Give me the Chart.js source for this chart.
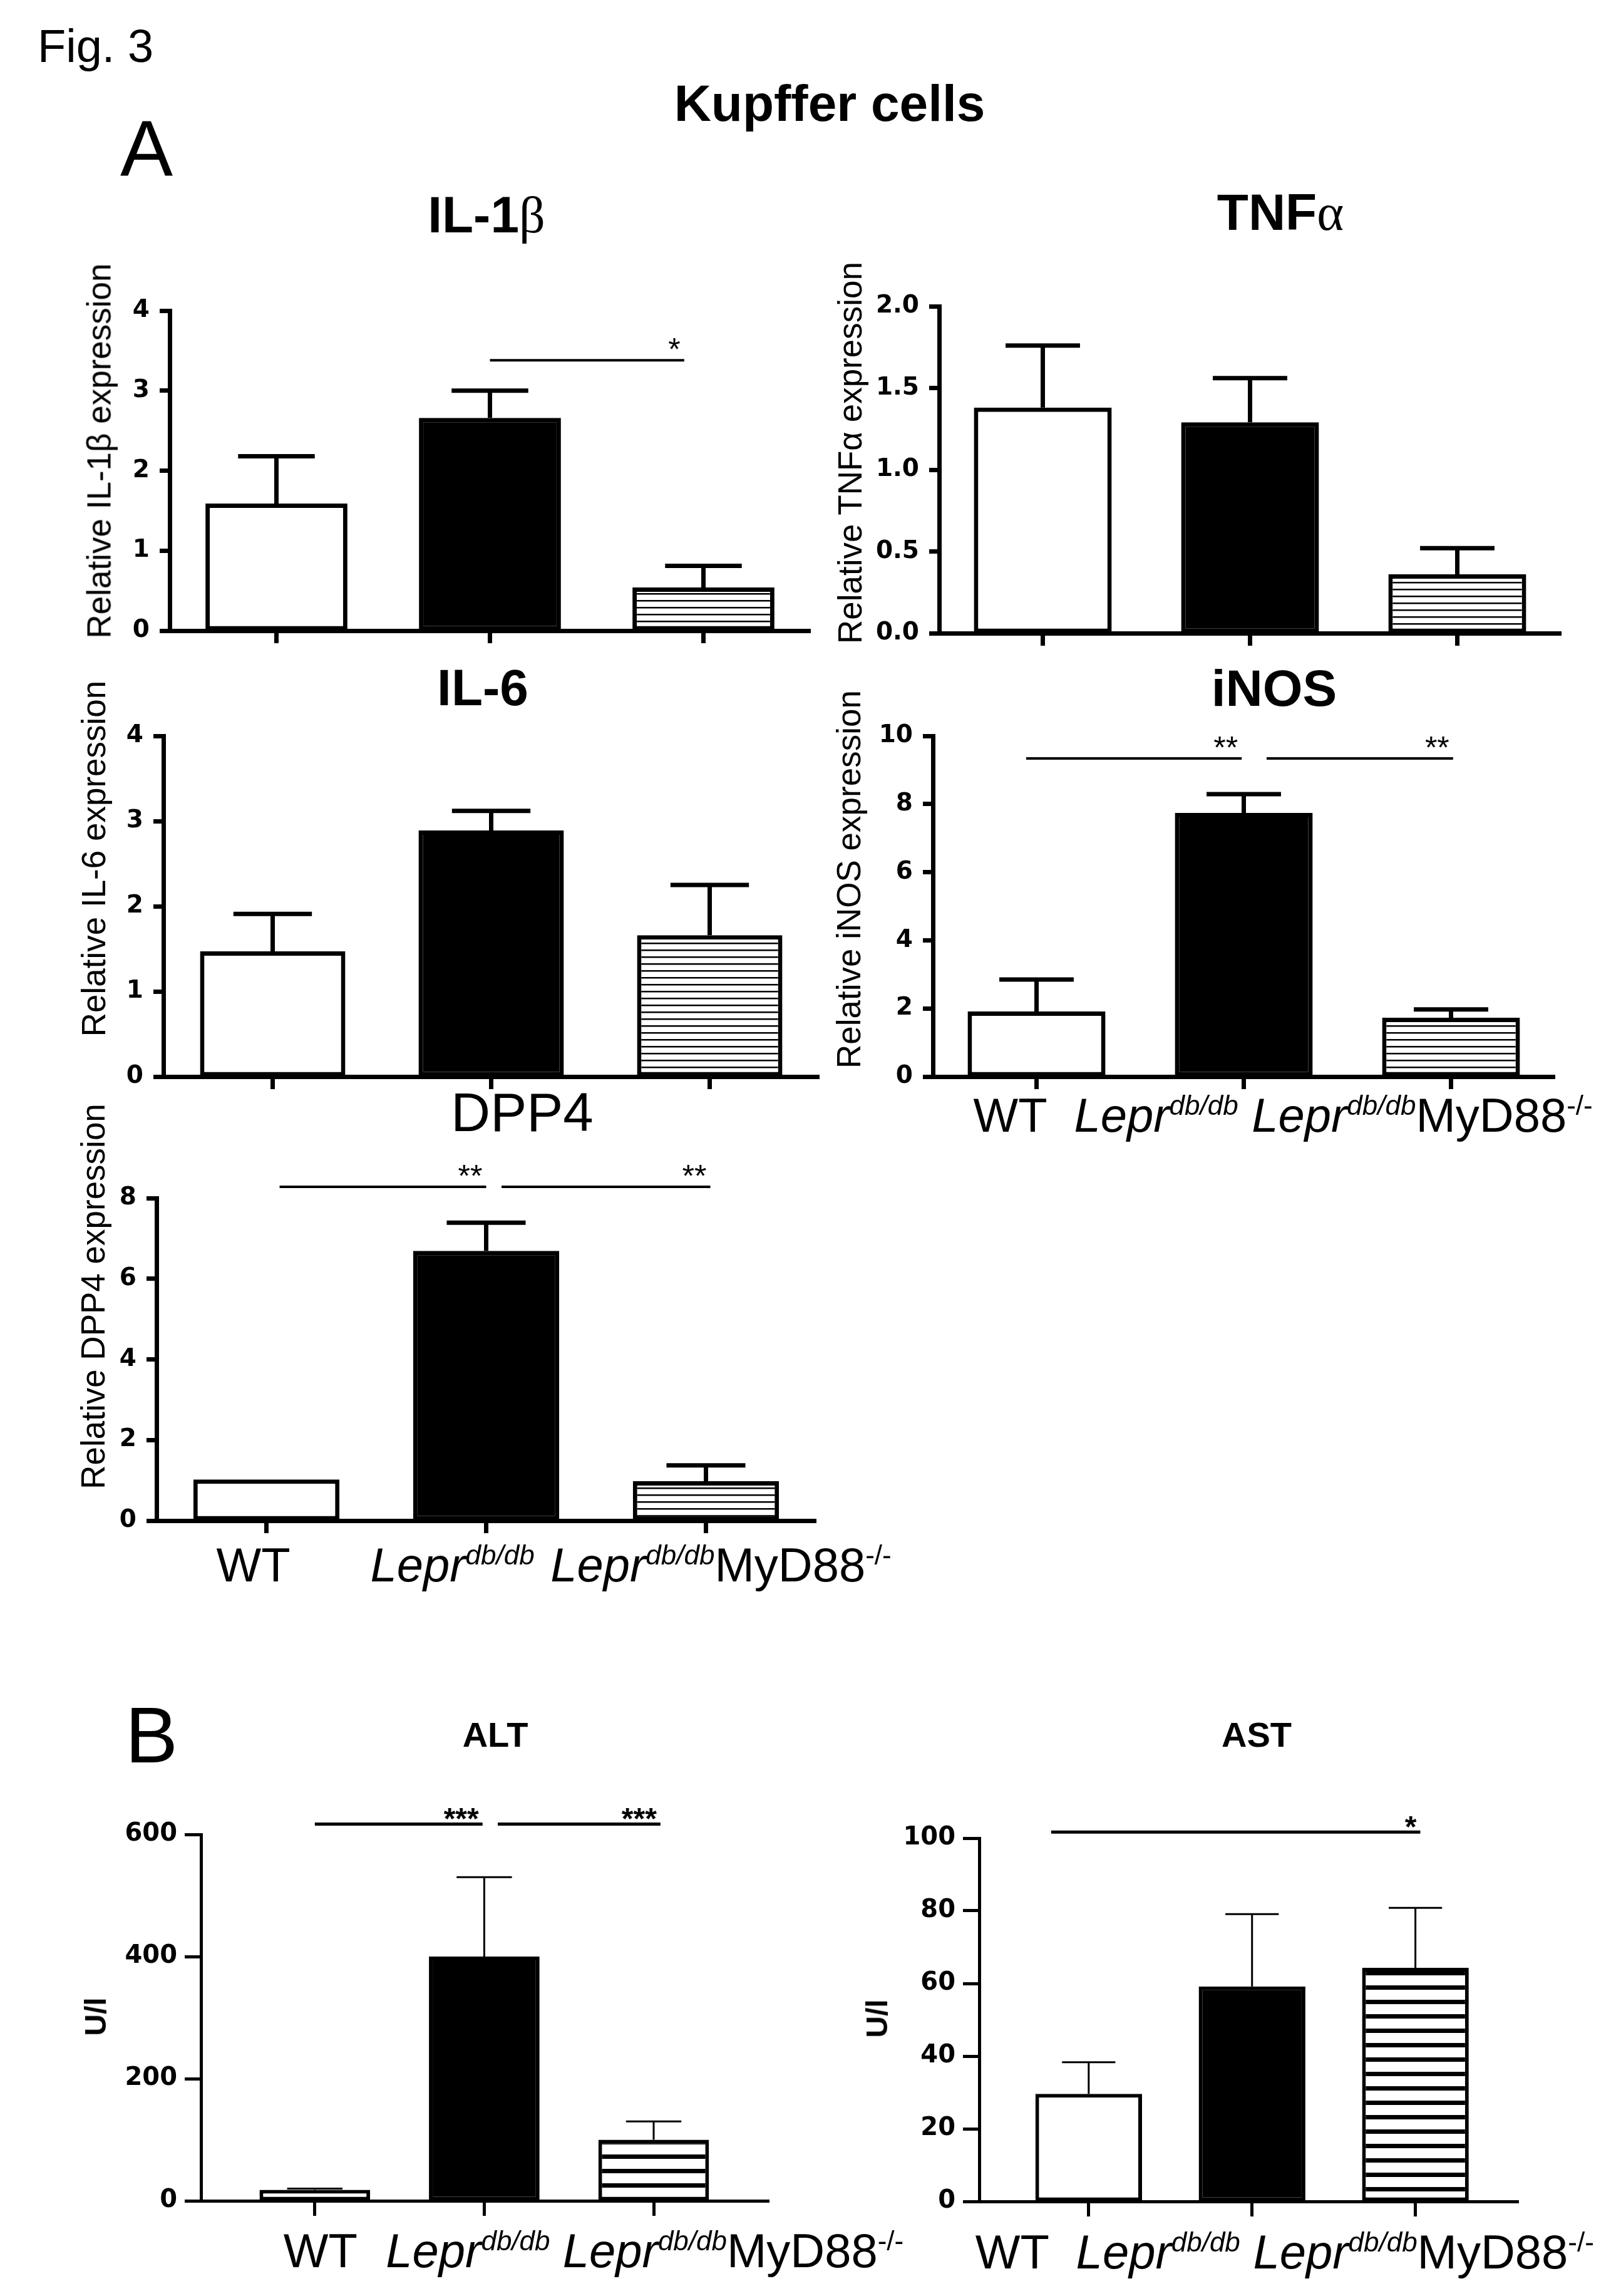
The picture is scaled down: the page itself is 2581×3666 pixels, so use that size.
<!DOCTYPE html>
<html lang="en">
<head>
<meta charset="UTF-8">
<title>Fig. 3 | Kupffer cells</title>
<script src="https://cdn.jsdelivr.net/npm/chart.js"></script>
<style>
  html, body { margin: 0; padding: 0; background: #fff; }
  body { width: 2581px; height: 3666px; position: relative; overflow: hidden;
         font-family: "Liberation Sans", Arial, sans-serif; color: #000; }
  canvas { position: absolute; }
  .txt { position: absolute; white-space: nowrap; line-height: 1; z-index: 2; }
  .ctr { transform: translateX(-50%); }
  .ylab { position: absolute; white-space: nowrap; line-height: 1; font-size: 53px; z-index: 2;
          transform: translate(-50%, -50%) rotate(-90deg); }
  .gr { font-family: "Liberation Serif", serif; font-weight: normal; }
</style>
</head>
<body>
  <div class="txt" style="left:60px; top:37px; font-size:74px;">Fig. 3</div>
  <div class="txt ctr" style="left:1325px; top:124px; font-size:82px; font-weight:bold;">Kupffer cells</div>
  <div class="txt" style="left:192px; top:174px; font-size:126px;">A</div>
  <div class="txt" style="left:200px; top:2708px; font-size:126px;">B</div>

  <!-- titulos dos paineis -->
  <div class="txt ctr" style="left:777px; top:302px; font-size:82px; font-weight:bold;">IL-1<span class="gr">β</span></div>
  <div class="txt ctr" style="left:2045px; top:298px; font-size:82px; font-weight:bold;">TNF<span class="gr">α</span></div>
  <div class="txt ctr" style="left:771px; top:1057px; font-size:82px; font-weight:bold;">IL-6</div>
  <div class="txt ctr" style="left:2035px; top:1058px; font-size:82px; font-weight:bold;">iNOS</div>
  <div class="txt ctr" style="left:834px; top:1732px; font-size:87px;">DPP4</div>
  <div class="txt ctr" style="left:791px; top:2742px; font-size:56px; font-weight:bold;">ALT</div>
  <div class="txt ctr" style="left:2007px; top:2742px; font-size:56px; font-weight:bold;">AST</div>

  <!-- eixo y -->
  <div class="ylab" style="left:158px; top:720px;">Relative IL-1β expression</div>
  <div class="ylab" style="left:1357px; top:723px;">Relative TNFα expression</div>
  <div class="ylab" style="left:149px; top:1371px;">Relative IL-6 expression</div>
  <div class="ylab" style="left:1355px; top:1404px;">Relative iNOS expression</div>
  <div class="ylab" style="left:148px; top:2070px;">Relative DPP4 expression</div>
  <div class="ylab" style="left:153px; top:3220px; font-size:48px; font-weight:bold;">U/l</div>
  <div class="ylab" style="left:1401px; top:3223px; font-size:48px; font-weight:bold;">U/l</div>

  <canvas id="cIl1b"></canvas>
  <canvas id="cTnf"></canvas>
  <canvas id="cIl6"></canvas>
  <canvas id="cInos"></canvas>
  <canvas id="cDpp4"></canvas>
  <canvas id="cAlt"></canvas>
  <canvas id="cAst"></canvas>

<script>
  // grupos
  const groups = ['WT', 'Lepr db/db', 'Lepr db/db MyD88-/-'];
  const groupRuns = [
    [{ t: 'WT' }],
    [{ t: 'Lepr', it: true }, { t: 'db/db', it: true, sup: true }],
    [{ t: 'Lepr', it: true }, { t: 'db/db', it: true, sup: true }, { t: 'MyD88' }, { t: '-/-', sup: true }]
  ];

  // dados (media e erro padrao)
  const il1bMean = [1.59, 2.66, 0.54];
  const il1bSem  = [0.59, 0.34, 0.27];
  const il1bTicks = [0, 1, 2, 3, 4];
  const il1bSig = [[1, 1.91, 3.38, '*']];

  const tnfMean = [1.38, 1.29, 0.36];
  const tnfSem  = [0.38, 0.27, 0.16];
  const tnfTicks = [0, 0.5, 1, 1.5, 2];

  const il6Mean = [1.47, 2.89, 1.66];
  const il6Sem  = [0.44, 0.23, 0.59];
  const il6Ticks = [0, 1, 2, 3, 4];

  const inosMean = [1.91, 7.74, 1.73];
  const inosSem  = [0.94, 0.55, 0.24];
  const inosTicks = [0, 2, 4, 6, 8, 10];
  const inosSig = [[-0.05, 0.99, 9.34, '**'], [1.11, 2.01, 9.34, '**']];

  const dpp4Mean = [1.02, 6.69, 0.98];
  const dpp4Sem  = [0, 0.70, 0.39];
  const dpp4Ticks = [0, 2, 4, 6, 8];
  const dpp4Sig = [[0.06, 1.0, 8.28, '**'], [1.07, 2.02, 8.28, '**']];

  const altMean = [18, 400, 100];
  const altSem  = [2, 130, 30];
  const altTicks = [0, 200, 400, 600];
  const altSig = [[0, 0.99, 617, '***'], [1.08, 2.04, 617, '***']];

  const astMean = [29.6, 59.2, 64.3];
  const astSem  = [8.7, 19.9, 16.5];
  const astTicks = [0, 20, 40, 60, 80, 100];
  const astSig = [[-0.23, 2.03, 101.7, '*']];

  // estilos por painel
  const styleA = { lw: 7, bw: 7, err: 7, sigW: 4, cap: 0.54, barPct: 0.665, period: 11, stripe: 2.5,
                   tickFont: 39, tickPad: 16, yTick: 16, xTick: 20,
                   starFont: '50px "Liberation Sans"', starDy: 0 };
  const styleB = { lw: 5, bw: 6, err: 3, sigW: 5, cap: 0.5, barPct: 0.653, period: 23, stripe: 7,
                   tickFont: 40, tickPad: 12, yTick: 26, xTick: 24,
                   starFont: 'bold 48px "Liberation Sans"', starDy: 8 };

  function stripes(ctx, period, lw) {
    const c = document.createElement('canvas');
    c.width = 8; c.height = period;
    const g = c.getContext('2d');
    g.fillStyle = '#fff'; g.fillRect(0, 0, 8, period);
    g.fillStyle = '#000'; g.fillRect(0, 0, 8, lw);
    return ctx.createPattern(c, 'repeat');
  }

  // barras de erro, linhas de significancia e rotulos dos grupos
  function extrasFor(p) {
    return {
      id: 'extras',
      afterDatasetsDraw(chart) {
        const ctx = chart.ctx, xs = chart.scales.x, ys = chart.scales.y, s = p.style;
        const meta = chart.getDatasetMeta(0);
        ctx.save();
        ctx.strokeStyle = '#000'; ctx.fillStyle = '#000';
        ctx.lineWidth = s.err;
        meta.data.forEach((bar, i) => {
          if (!p.sem[i]) return;
          const yTop = ys.getPixelForValue(p.mean[i] + p.sem[i]);
          const half = bar.width * s.cap / 2;
          ctx.beginPath();
          ctx.moveTo(bar.x, bar.y); ctx.lineTo(bar.x, yTop);
          ctx.moveTo(bar.x - half, yTop); ctx.lineTo(bar.x + half, yTop);
          ctx.stroke();
        });

        ctx.lineWidth = s.sigW;
        ctx.font = s.starFont; ctx.textAlign = 'right'; ctx.textBaseline = 'alphabetic';
        (p.sig || []).forEach(g => {
          const x1 = xs.getPixelForValue(g[0]), x2 = xs.getPixelForValue(g[1]);
          const y = ys.getPixelForValue(g[2]);
          ctx.beginPath(); ctx.moveTo(x1, y); ctx.lineTo(x2, y); ctx.stroke();
          ctx.fillText(g[3], x2 - 6, y + s.starDy);
        });

        if (p.labelShift) {
          const y0 = chart.chartArea.bottom + p.labelDy;
          ctx.textAlign = 'left';
          groupRuns.forEach((runs, i) => {
            let total = 0;
            const parts = runs.map(r => {
              const font = (r.it ? 'italic ' : '') + (r.sup ? 44 : 76) + 'px "Liberation Sans"';
              ctx.font = font;
              const w = ctx.measureText(r.t).width;
              total += w;
              return { r, font, w };
            });
            let x = xs.getPixelForValue(i) + p.labelShift[i] - total / 2;
            parts.forEach(pt => {
              ctx.font = pt.font;
              ctx.fillText(pt.r.t, x, y0 - (pt.r.sup ? 27 : 0));
              x += pt.w;
            });
          });
        }
        ctx.restore();
      }
    };
  }

  function makePanel(id, p) {
    const cv = document.getElementById(id);
    const PL = 160, YW = 140, PT = 110, PR = 240, PB = 150, XH = 40;
    const w = p.r - p.l + PL + PR, h = p.b - p.t + PT + PB;
    cv.width = w; cv.height = h;
    cv.style.width = w + 'px'; cv.style.height = h + 'px';
    cv.style.left = (p.l - PL) + 'px'; cv.style.top = (p.t - PT) + 'px';
    const s = p.style;
    const ctx = cv.getContext('2d');

    new Chart(cv, {
      type: 'bar',
      data: {
        labels: groups,
        datasets: [{
          data: p.mean.map((v, i) => ({ x: i, y: v })),
          backgroundColor: ['#fff', '#000', stripes(ctx, s.period, s.stripe)],
          borderColor: '#000',
          borderWidth: s.bw,
          borderSkipped: false,
          categoryPercentage: 1,
          barPercentage: s.barPct
        }]
      },
      options: {
        responsive: false,
        animation: false,
        events: [],
        layout: { padding: { left: PL - YW, top: PT, right: PR, bottom: PB - XH } },
        plugins: { legend: { display: false }, tooltip: { enabled: false } },
        scales: {
          x: {
            type: 'linear', min: p.xMin, max: p.xMax, offset: false,
            afterBuildTicks: sc => { sc.ticks = p.mean.map((v, i) => ({ value: i })); },
            afterFit: sc => { sc.height = XH; },
            ticks: { display: false },
            grid: { offset: false, drawOnChartArea: false, drawTicks: true,
                    tickLength: s.xTick, tickWidth: s.lw, tickColor: '#000' },
            border: { display: true, color: '#000', width: s.lw }
          },
          y: {
            min: 0, max: p.ticks[p.ticks.length - 1],
            afterBuildTicks: sc => { sc.ticks = p.ticks.map(v => ({ value: v })); },
            afterFit: sc => { sc.width = YW; },
            ticks: {
              color: '#000', padding: s.tickPad,
              font: { family: 'DejaVu Sans', weight: 'bold', size: s.tickFont },
              callback: v => p.dec ? v.toFixed(p.dec) : v
            },
            grid: { drawOnChartArea: false, drawTicks: true,
                    tickLength: s.yTick, tickWidth: s.lw, tickColor: '#000' },
            border: { display: true, color: '#000', width: s.lw }
          }
        }
      },
      plugins: [extrasFor(p)]
    });
  }

  makePanel('cIl1b', { l: 271, r: 1294, t: 496, b: 1007, xMin: -0.5, xMax: 2.5, style: styleA,
    mean: il1bMean, sem: il1bSem, ticks: il1bTicks, sig: il1bSig });
  makePanel('cTnf', { l: 1500, r: 2493, t: 489, b: 1011, xMin: -0.5, xMax: 2.5, style: styleA,
    mean: tnfMean, sem: tnfSem, ticks: tnfTicks, dec: 1 });
  makePanel('cIl6', { l: 261, r: 1308, t: 1175, b: 1719, xMin: -0.5, xMax: 2.5, style: styleA,
    mean: il6Mean, sem: il6Sem, ticks: il6Ticks });
  makePanel('cInos', { l: 1490, r: 2483, t: 1175, b: 1719, xMin: -0.5, xMax: 2.5, style: styleA,
    mean: inosMean, sem: inosSem, ticks: inosTicks, sig: inosSig,
    labelShift: [-42, -140, -46], labelDy: 88 });
  makePanel('cDpp4', { l: 250, r: 1303, t: 1913, b: 2428, xMin: -0.5, xMax: 2.5, style: styleA,
    mean: dpp4Mean, sem: dpp4Sem, ticks: dpp4Ticks, sig: dpp4Sig,
    labelShift: [-21, -54, 24], labelDy: 97 });
  makePanel('cAlt', { l: 321, r: 1228, t: 2929, b: 3514, xMin: -0.672, xMax: 2.68, style: styleB,
    mean: altMean, sem: altSem, ticks: altTicks, sig: altSig,
    labelShift: [9, -26, 127], labelDy: 106 });
  makePanel('cAst', { l: 1564, r: 2425, t: 2935, b: 3515, xMin: -0.67, xMax: 2.63, style: styleB,
    mean: astMean, sem: astSem, ticks: astTicks, sig: astSig,
    labelShift: [-122, -150, 13], labelDy: 107 });
</script>
</body>
</html>
